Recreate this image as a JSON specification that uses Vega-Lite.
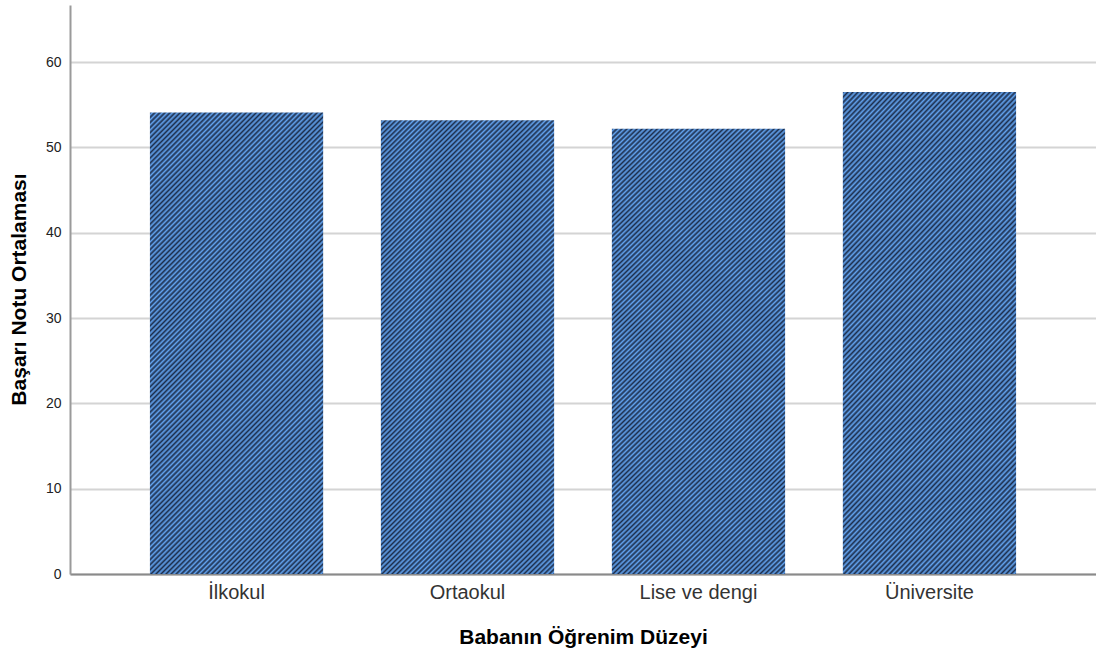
{
  "$schema": "https://vega.github.io/schema/vega-lite/v6.json",
  "width": 1026,
  "height": 569,
  "autosize": {"type": "none"},
  "padding": {"left": 70, "top": 5, "right": 0, "bottom": 81},
  "background": "white",
  "config": {"view": {"stroke": null}, "font": "Liberation Sans"},
  "data": {"values": [
    {"level": "İlkokul", "mean": 54.1},
    {"level": "Ortaokul", "mean": 53.2},
    {"level": "Lise ve dengi", "mean": 52.2},
    {"level": "Üniversite", "mean": 56.5}
  ]},
  "mark": {
    "type": "bar",
    "fill": {
      "gradient": "linear", "x1": 0, "y1": 0, "x2": 0.4535, "y2": 1.206,
      "stops": [
{"offset":0,"color":"#1c2e4c"},{"offset":0.004,"color":"#62a2ee"},{"offset":0.008,"color":"#1c2e4c"},{"offset":0.012,"color":"#62a2ee"},{"offset":0.016,"color":"#1c2e4c"},{"offset":0.02,"color":"#62a2ee"},{"offset":0.024,"color":"#1c2e4c"},{"offset":0.028,"color":"#62a2ee"},{"offset":0.032,"color":"#1c2e4c"},{"offset":0.036,"color":"#62a2ee"},{"offset":0.04,"color":"#1c2e4c"},{"offset":0.044,"color":"#62a2ee"},{"offset":0.048,"color":"#1c2e4c"},{"offset":0.052,"color":"#62a2ee"},{"offset":0.056,"color":"#1c2e4c"},{"offset":0.06,"color":"#62a2ee"},{"offset":0.064,"color":"#1c2e4c"},{"offset":0.068,"color":"#62a2ee"},{"offset":0.072,"color":"#1c2e4c"},{"offset":0.076,"color":"#62a2ee"},{"offset":0.08,"color":"#1c2e4c"},{"offset":0.084,"color":"#62a2ee"},{"offset":0.088,"color":"#1c2e4c"},{"offset":0.092,"color":"#62a2ee"},{"offset":0.096,"color":"#1c2e4c"},{"offset":0.1,"color":"#62a2ee"},{"offset":0.104,"color":"#1c2e4c"},{"offset":0.108,"color":"#62a2ee"},{"offset":0.112,"color":"#1c2e4c"},{"offset":0.116,"color":"#62a2ee"},{"offset":0.12,"color":"#1c2e4c"},{"offset":0.124,"color":"#62a2ee"},{"offset":0.128,"color":"#1c2e4c"},{"offset":0.132,"color":"#62a2ee"},{"offset":0.136,"color":"#1c2e4c"},{"offset":0.14,"color":"#62a2ee"},{"offset":0.144,"color":"#1c2e4c"},{"offset":0.148,"color":"#62a2ee"},{"offset":0.152,"color":"#1c2e4c"},{"offset":0.156,"color":"#62a2ee"},{"offset":0.16,"color":"#1c2e4c"},{"offset":0.164,"color":"#62a2ee"},{"offset":0.168,"color":"#1c2e4c"},{"offset":0.172,"color":"#62a2ee"},{"offset":0.176,"color":"#1c2e4c"},{"offset":0.18,"color":"#62a2ee"},{"offset":0.184,"color":"#1c2e4c"},{"offset":0.188,"color":"#62a2ee"},{"offset":0.192,"color":"#1c2e4c"},{"offset":0.196,"color":"#62a2ee"},
{"offset":0.2,"color":"#1c2e4c"},{"offset":0.204,"color":"#62a2ee"},{"offset":0.208,"color":"#1c2e4c"},{"offset":0.212,"color":"#62a2ee"},{"offset":0.216,"color":"#1c2e4c"},{"offset":0.22,"color":"#62a2ee"},{"offset":0.224,"color":"#1c2e4c"},{"offset":0.228,"color":"#62a2ee"},{"offset":0.232,"color":"#1c2e4c"},{"offset":0.236,"color":"#62a2ee"},{"offset":0.24,"color":"#1c2e4c"},{"offset":0.244,"color":"#62a2ee"},{"offset":0.248,"color":"#1c2e4c"},{"offset":0.252,"color":"#62a2ee"},{"offset":0.256,"color":"#1c2e4c"},{"offset":0.26,"color":"#62a2ee"},{"offset":0.264,"color":"#1c2e4c"},{"offset":0.268,"color":"#62a2ee"},{"offset":0.272,"color":"#1c2e4c"},{"offset":0.276,"color":"#62a2ee"},{"offset":0.28,"color":"#1c2e4c"},{"offset":0.284,"color":"#62a2ee"},{"offset":0.288,"color":"#1c2e4c"},{"offset":0.292,"color":"#62a2ee"},{"offset":0.296,"color":"#1c2e4c"},{"offset":0.3,"color":"#62a2ee"},{"offset":0.304,"color":"#1c2e4c"},{"offset":0.308,"color":"#62a2ee"},{"offset":0.312,"color":"#1c2e4c"},{"offset":0.316,"color":"#62a2ee"},{"offset":0.32,"color":"#1c2e4c"},{"offset":0.324,"color":"#62a2ee"},{"offset":0.328,"color":"#1c2e4c"},{"offset":0.332,"color":"#62a2ee"},{"offset":0.336,"color":"#1c2e4c"},{"offset":0.34,"color":"#62a2ee"},{"offset":0.344,"color":"#1c2e4c"},{"offset":0.348,"color":"#62a2ee"},{"offset":0.352,"color":"#1c2e4c"},{"offset":0.356,"color":"#62a2ee"},{"offset":0.36,"color":"#1c2e4c"},{"offset":0.364,"color":"#62a2ee"},{"offset":0.368,"color":"#1c2e4c"},{"offset":0.372,"color":"#62a2ee"},{"offset":0.376,"color":"#1c2e4c"},{"offset":0.38,"color":"#62a2ee"},{"offset":0.384,"color":"#1c2e4c"},{"offset":0.388,"color":"#62a2ee"},{"offset":0.392,"color":"#1c2e4c"},{"offset":0.396,"color":"#62a2ee"},
{"offset":0.4,"color":"#1c2e4c"},{"offset":0.404,"color":"#62a2ee"},{"offset":0.408,"color":"#1c2e4c"},{"offset":0.412,"color":"#62a2ee"},{"offset":0.416,"color":"#1c2e4c"},{"offset":0.42,"color":"#62a2ee"},{"offset":0.424,"color":"#1c2e4c"},{"offset":0.428,"color":"#62a2ee"},{"offset":0.432,"color":"#1c2e4c"},{"offset":0.436,"color":"#62a2ee"},{"offset":0.44,"color":"#1c2e4c"},{"offset":0.444,"color":"#62a2ee"},{"offset":0.448,"color":"#1c2e4c"},{"offset":0.452,"color":"#62a2ee"},{"offset":0.456,"color":"#1c2e4c"},{"offset":0.46,"color":"#62a2ee"},{"offset":0.464,"color":"#1c2e4c"},{"offset":0.468,"color":"#62a2ee"},{"offset":0.472,"color":"#1c2e4c"},{"offset":0.476,"color":"#62a2ee"},{"offset":0.48,"color":"#1c2e4c"},{"offset":0.484,"color":"#62a2ee"},{"offset":0.488,"color":"#1c2e4c"},{"offset":0.492,"color":"#62a2ee"},{"offset":0.496,"color":"#1c2e4c"},{"offset":0.5,"color":"#62a2ee"},{"offset":0.504,"color":"#1c2e4c"},{"offset":0.508,"color":"#62a2ee"},{"offset":0.512,"color":"#1c2e4c"},{"offset":0.516,"color":"#62a2ee"},{"offset":0.52,"color":"#1c2e4c"},{"offset":0.524,"color":"#62a2ee"},{"offset":0.528,"color":"#1c2e4c"},{"offset":0.532,"color":"#62a2ee"},{"offset":0.536,"color":"#1c2e4c"},{"offset":0.54,"color":"#62a2ee"},{"offset":0.544,"color":"#1c2e4c"},{"offset":0.548,"color":"#62a2ee"},{"offset":0.552,"color":"#1c2e4c"},{"offset":0.556,"color":"#62a2ee"},{"offset":0.56,"color":"#1c2e4c"},{"offset":0.564,"color":"#62a2ee"},{"offset":0.568,"color":"#1c2e4c"},{"offset":0.572,"color":"#62a2ee"},{"offset":0.576,"color":"#1c2e4c"},{"offset":0.58,"color":"#62a2ee"},{"offset":0.584,"color":"#1c2e4c"},{"offset":0.588,"color":"#62a2ee"},{"offset":0.592,"color":"#1c2e4c"},{"offset":0.596,"color":"#62a2ee"},
{"offset":0.6,"color":"#1c2e4c"},{"offset":0.604,"color":"#62a2ee"},{"offset":0.608,"color":"#1c2e4c"},{"offset":0.612,"color":"#62a2ee"},{"offset":0.616,"color":"#1c2e4c"},{"offset":0.62,"color":"#62a2ee"},{"offset":0.624,"color":"#1c2e4c"},{"offset":0.628,"color":"#62a2ee"},{"offset":0.632,"color":"#1c2e4c"},{"offset":0.636,"color":"#62a2ee"},{"offset":0.64,"color":"#1c2e4c"},{"offset":0.644,"color":"#62a2ee"},{"offset":0.648,"color":"#1c2e4c"},{"offset":0.652,"color":"#62a2ee"},{"offset":0.656,"color":"#1c2e4c"},{"offset":0.66,"color":"#62a2ee"},{"offset":0.664,"color":"#1c2e4c"},{"offset":0.668,"color":"#62a2ee"},{"offset":0.672,"color":"#1c2e4c"},{"offset":0.676,"color":"#62a2ee"},{"offset":0.68,"color":"#1c2e4c"},{"offset":0.684,"color":"#62a2ee"},{"offset":0.688,"color":"#1c2e4c"},{"offset":0.692,"color":"#62a2ee"},{"offset":0.696,"color":"#1c2e4c"},{"offset":0.7,"color":"#62a2ee"},{"offset":0.704,"color":"#1c2e4c"},{"offset":0.708,"color":"#62a2ee"},{"offset":0.712,"color":"#1c2e4c"},{"offset":0.716,"color":"#62a2ee"},{"offset":0.72,"color":"#1c2e4c"},{"offset":0.724,"color":"#62a2ee"},{"offset":0.728,"color":"#1c2e4c"},{"offset":0.732,"color":"#62a2ee"},{"offset":0.736,"color":"#1c2e4c"},{"offset":0.74,"color":"#62a2ee"},{"offset":0.744,"color":"#1c2e4c"},{"offset":0.748,"color":"#62a2ee"},{"offset":0.752,"color":"#1c2e4c"},{"offset":0.756,"color":"#62a2ee"},{"offset":0.76,"color":"#1c2e4c"},{"offset":0.764,"color":"#62a2ee"},{"offset":0.768,"color":"#1c2e4c"},{"offset":0.772,"color":"#62a2ee"},{"offset":0.776,"color":"#1c2e4c"},{"offset":0.78,"color":"#62a2ee"},{"offset":0.784,"color":"#1c2e4c"},{"offset":0.788,"color":"#62a2ee"},{"offset":0.792,"color":"#1c2e4c"},{"offset":0.796,"color":"#62a2ee"},
{"offset":0.8,"color":"#1c2e4c"},{"offset":0.804,"color":"#62a2ee"},{"offset":0.808,"color":"#1c2e4c"},{"offset":0.812,"color":"#62a2ee"},{"offset":0.816,"color":"#1c2e4c"},{"offset":0.82,"color":"#62a2ee"},{"offset":0.824,"color":"#1c2e4c"},{"offset":0.828,"color":"#62a2ee"},{"offset":0.832,"color":"#1c2e4c"},{"offset":0.836,"color":"#62a2ee"},{"offset":0.84,"color":"#1c2e4c"},{"offset":0.844,"color":"#62a2ee"},{"offset":0.848,"color":"#1c2e4c"},{"offset":0.852,"color":"#62a2ee"},{"offset":0.856,"color":"#1c2e4c"},{"offset":0.86,"color":"#62a2ee"},{"offset":0.864,"color":"#1c2e4c"},{"offset":0.868,"color":"#62a2ee"},{"offset":0.872,"color":"#1c2e4c"},{"offset":0.876,"color":"#62a2ee"},{"offset":0.88,"color":"#1c2e4c"},{"offset":0.884,"color":"#62a2ee"},{"offset":0.888,"color":"#1c2e4c"},{"offset":0.892,"color":"#62a2ee"},{"offset":0.896,"color":"#1c2e4c"},{"offset":0.9,"color":"#62a2ee"},{"offset":0.904,"color":"#1c2e4c"},{"offset":0.908,"color":"#62a2ee"},{"offset":0.912,"color":"#1c2e4c"},{"offset":0.916,"color":"#62a2ee"},{"offset":0.92,"color":"#1c2e4c"},{"offset":0.924,"color":"#62a2ee"},{"offset":0.928,"color":"#1c2e4c"},{"offset":0.932,"color":"#62a2ee"},{"offset":0.936,"color":"#1c2e4c"},{"offset":0.94,"color":"#62a2ee"},{"offset":0.944,"color":"#1c2e4c"},{"offset":0.948,"color":"#62a2ee"},{"offset":0.952,"color":"#1c2e4c"},{"offset":0.956,"color":"#62a2ee"},{"offset":0.96,"color":"#1c2e4c"},{"offset":0.964,"color":"#62a2ee"},{"offset":0.968,"color":"#1c2e4c"},{"offset":0.972,"color":"#62a2ee"},{"offset":0.976,"color":"#1c2e4c"},{"offset":0.98,"color":"#62a2ee"},{"offset":0.984,"color":"#1c2e4c"},{"offset":0.988,"color":"#62a2ee"},{"offset":0.992,"color":"#1c2e4c"},{"offset":0.996,"color":"#62a2ee"},{"offset":1,"color":"#1c2e4c"}
      ]
    }
  },
  "encoding": {
    "x": {
      "field": "level", "type": "nominal", "sort": null,
      "scale": {"paddingInner": 0.25, "paddingOuter": 0.346},
      "axis": {
        "title": "Babanın Öğrenim Düzeyi",
        "titleFontSize": 21, "titleFontWeight": "bold", "titleColor": "#000000",
        "titleBaseline": "alphabetic", "titleY": 69,
        "labelAngle": 0, "labelFontSize": 20, "labelColor": "#333333",
        "labelPadding": 8, "ticks": false, "grid": false,
        "domainColor": "#8a8a8a", "domainWidth": 2
      }
    },
    "y": {
      "field": "mean", "type": "quantitative",
      "scale": {"domain": [0, 66.7], "nice": false},
      "axis": {
        "title": "Başarı Notu Ortalaması",
        "titleFontSize": 21, "titleFontWeight": "bold", "titleColor": "#000000",
        "titleBaseline": "alphabetic", "titleX": -45, "titleY": 284, "titleAngle": 270,
        "values": [0, 10, 20, 30, 40, 50, 60],
        "labelFontSize": 14, "labelColor": "#222222", "labelPadding": 9,
        "ticks": false, "grid": true, "gridColor": "#d4d4d4", "gridWidth": 2,
        "domainColor": "#9a9a9a", "domainWidth": 2
      }
    }
  }
}
